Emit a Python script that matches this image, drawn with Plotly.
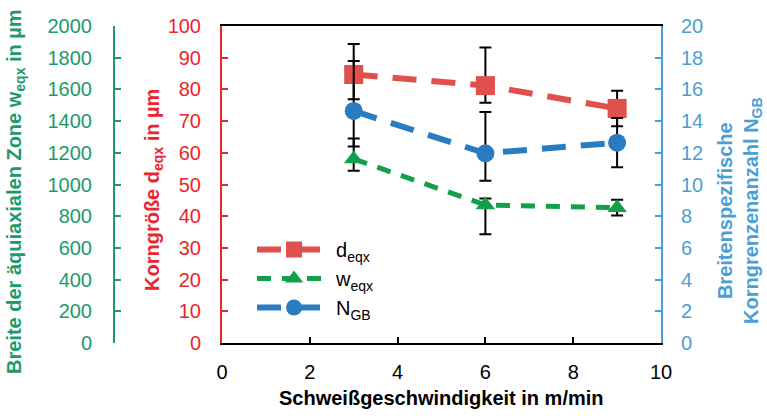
import plotly.graph_objects as go

# ---- data ----
speed = [3, 6, 9]

d_eqx = [84.7, 81.2, 74.0]
d_err_plus = [9.6, 12.0, 5.6]
d_err_minus = [7.8, 5.4, 5.6]

w_eqx = [1161, 871, 854]
w_err_plus = [130, 40, 50]
w_err_minus = [74, 185, 50]

n_gb = [14.64, 11.97, 12.64]
n_err_plus = [3.15, 2.6, 1.55]
n_err_minus = [2.25, 1.73, 1.55]

x_ticks = [0, 2, 4, 6, 8, 10]
d_ticks = list(range(0, 101, 10))
w_ticks = list(range(0, 2001, 200))
n_ticks = list(range(0, 21, 2))

RED_AX = "#e8262d"
RED = "#e0504d"
GREEN_AX = "#1b9a6c"
GREEN = "#14a04b"
BLUE_AX = "#4b9fd5"
BLUE = "#2a7cc0"
FONT = "Liberation Sans, Arial, sans-serif"
W, H = 767, 416

fig = go.Figure()

eb = dict(type="data", symmetric=False, color="black", thickness=2, width=6)

fig.add_trace(go.Scatter(
    x=speed, y=d_eqx, name="d<sub>eqx</sub>", yaxis="y",
    mode="lines+markers",
    line=dict(color=RED, width=6, dash="24px,15px"),
    marker=dict(symbol="square", size=19, color=RED),
    error_y=dict(eb, array=d_err_plus, arrayminus=d_err_minus),
))
fig.add_trace(go.Scatter(
    x=speed, y=w_eqx, name="w<sub>eqx</sub>", yaxis="y2",
    mode="lines+markers",
    line=dict(color=GREEN, width=5, dash="14px,11px"),
    marker=dict(symbol="triangle-up", size=17, color=GREEN),
    error_y=dict(eb, array=w_err_plus, arrayminus=w_err_minus),
))
fig.add_trace(go.Scatter(
    x=speed, y=n_gb, name="N<sub>GB</sub>", yaxis="y3",
    mode="lines+markers",
    line=dict(color=BLUE, width=6, dash="24px,15px"),
    marker=dict(symbol="circle", size=18, color=BLUE),
    error_y=dict(eb, array=n_err_plus, arrayminus=n_err_minus),
))

x0, x1 = 222 / W, 661 / W
y0, y1 = (H - 343) / H, (H - 26) / H
tickfont = dict(family=FONT, size=20)

fig.update_layout(
    width=W, height=H,
    margin=dict(l=0, r=0, t=0, b=0, autoexpand=False),
    paper_bgcolor="white", plot_bgcolor="white",
    font=dict(family=FONT, size=20, color="black"),
    showlegend=True,
    legend=dict(x=252 / W, y=(H - 230) / H, xanchor="left", yanchor="top",
                bgcolor="rgba(0,0,0,0)", font=dict(family=FONT, size=20),
                itemwidth=74, tracegroupgap=0),
    xaxis=dict(domain=[x0, x1], range=[0, 10], tickvals=x_ticks,
               showgrid=False, zeroline=False, automargin=False,
               showline=True, linecolor="black", linewidth=2, mirror=True,
               ticks="inside", ticklen=6, tickcolor="black", tickwidth=2,
               tickfont=dict(tickfont, color="black"), ticklabelstandoff=10),
    yaxis=dict(domain=[y0, y1], range=[0, 100], tickvals=d_ticks,
               showgrid=False, zeroline=False, automargin=False,
               showline=True, linecolor=RED_AX, linewidth=2,
               ticks="inside", ticklen=6, tickcolor=RED_AX, tickwidth=2,
               tickfont=dict(tickfont, color=RED_AX), ticklabelstandoff=15),
    yaxis2=dict(domain=[y0, y1], range=[0, 2000], tickvals=w_ticks,
                overlaying="y", anchor="free", side="left", position=114 / W,
                showgrid=False, zeroline=False, automargin=False,
                showline=True, linecolor=GREEN_AX, linewidth=2,
                ticks="inside", ticklen=6, tickcolor=GREEN_AX, tickwidth=2,
                tickfont=dict(tickfont, color=GREEN_AX), ticklabelstandoff=17),
    yaxis3=dict(domain=[y0, y1], range=[0, 20], tickvals=n_ticks,
                overlaying="y", anchor="x", side="right",
                showgrid=False, zeroline=False, automargin=False,
                showline=True, linecolor=BLUE_AX, linewidth=2,
                ticks="inside", ticklen=6, tickcolor=BLUE_AX, tickwidth=2,
                tickfont=dict(tickfont, color=BLUE_AX), ticklabelstandoff=14),
)

ann = [
    dict(text="<b>Breite der äquiaxialen Zone w<sub>eqx</sub> in µm</b>",
         x=15 / W, y=(H - 192) / H, color=GREEN_AX, angle=-90, size=20),
    dict(text="<b>Korngröße d<sub>eqx</sub> in µm</b>",
         x=153 / W, y=(H - 190) / H, color=RED_AX, angle=-90, size=20),
    dict(text="<b>Breitenspezifische<br>Korngrenzenanzahl N<sub>GB</sub></b>",
         x=739 / W, y=(H - 211) / H, color=BLUE_AX, angle=-90, size=20),
    dict(text="<b>Schweißgeschwindigkeit in m/min</b>",
         x=441 / W, y=(H - 398) / H, color="black", angle=0, size=20),
]
for a in ann:
    fig.add_annotation(text=a["text"], x=a["x"], y=a["y"], xref="paper", yref="paper",
                       xanchor="center", yanchor="middle", showarrow=False,
                       textangle=a["angle"],
                       font=dict(family=FONT, size=a["size"], color=a["color"]))

fig.write_html("out.html")
